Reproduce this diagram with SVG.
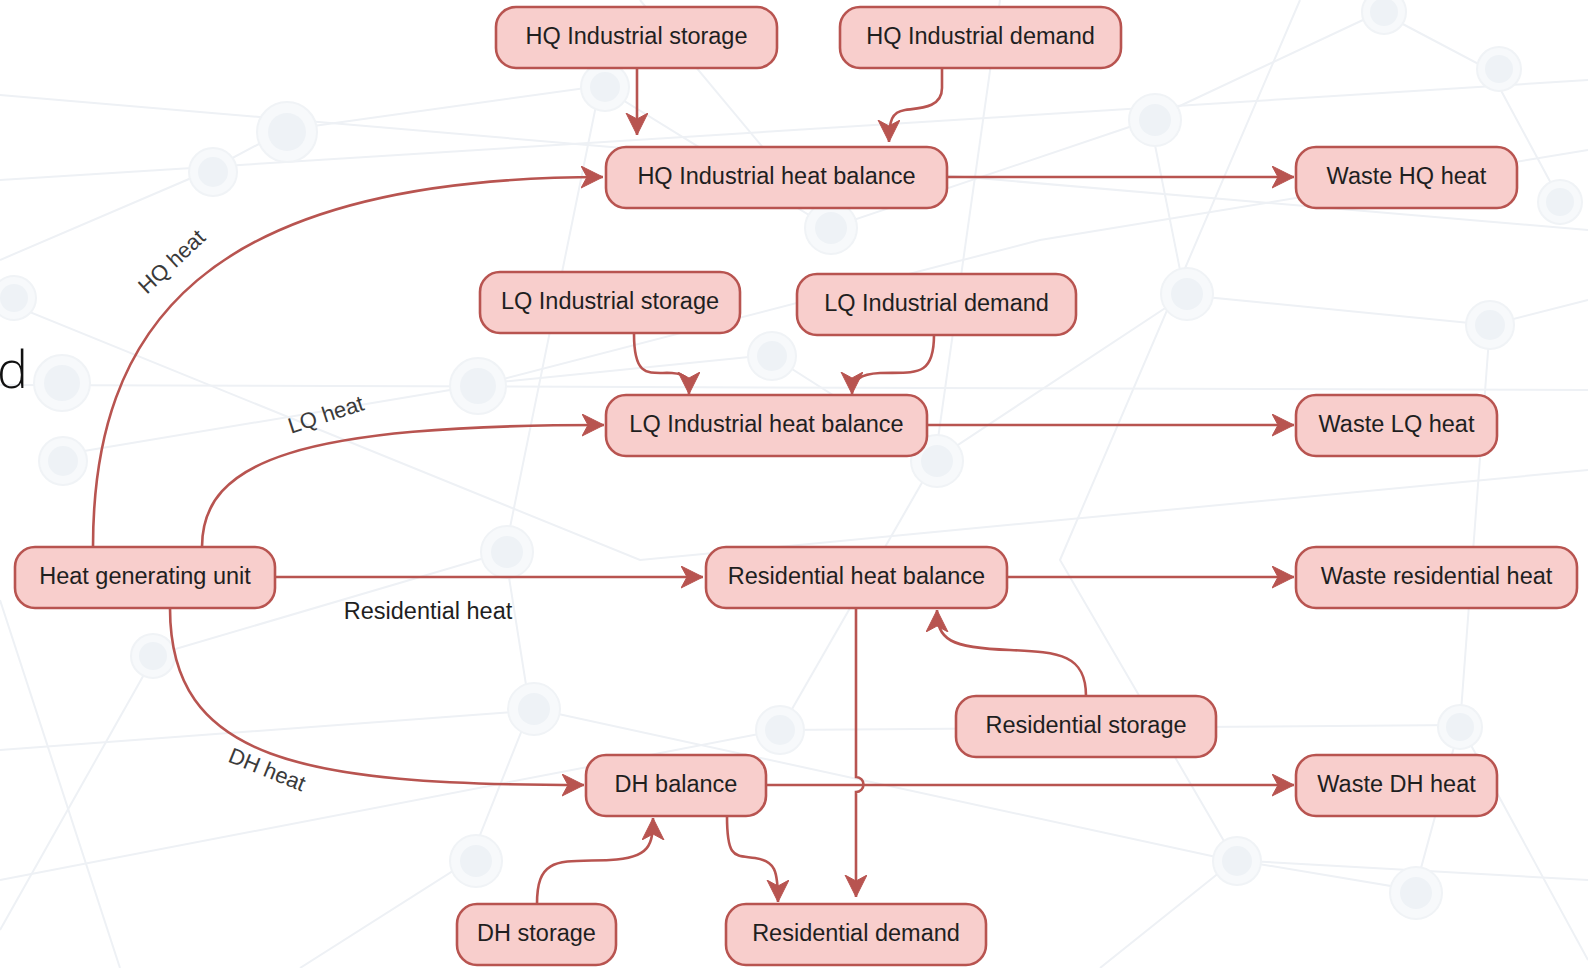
<svg xmlns="http://www.w3.org/2000/svg" width="1588" height="968" viewBox="0 0 1588 968">
  <defs>
    <style>
      .bg-line { stroke: #eef1f5; stroke-width: 2; fill: none; }
      .bg-ring { fill: #f7f9fb; stroke: #f0f3f6; stroke-width: 2; }
      .bg-dot { fill: #eef2f6; }
      .node rect { fill: #f8cecc; stroke: #b85450; stroke-width: 2.6; }
      .node text { font-family: "Liberation Sans", Arial, sans-serif; font-size: 23.5px; fill: #1f1f1f; text-anchor: middle; }
      .edge { fill: none; stroke: #b85450; stroke-width: 2.6; marker-end: url(#arrow); }
      .elabel { font-family: "Liberation Sans", Arial, sans-serif; font-size: 22px; fill: #3a3a3a; text-anchor: middle; }
    </style>
    <marker id="arrow" markerUnits="userSpaceOnUse" markerWidth="24" markerHeight="24" refX="22" refY="11" orient="auto">
      <path d="M0,0 L22,11 L0,22 L6,11 z" fill="#b85450" stroke="#b85450" stroke-width="1"/>
    </marker>
  </defs>

  <rect width="1588" height="968" fill="#ffffff"/>

  <!-- faint network backdrop -->
  <g id="backdrop">
    <path class="bg-line" d="M0 95 L1588 230"/>
    <path class="bg-line" d="M0 180 L1588 80"/>
    <path class="bg-line" d="M0 385 L1588 390"/>
    <path class="bg-line" d="M0 300 L640 560 L1588 470"/>
    <path class="bg-line" d="M60 455 L480 385 L1040 240 L1588 150"/>
    <path class="bg-line" d="M0 750 L540 710 L1230 860 L1588 880"/>
    <path class="bg-line" d="M0 880 L780 730 L1460 725"/>
    <path class="bg-line" d="M155 655 L0 930"/>
    <path class="bg-line" d="M285 130 L210 170 L0 260"/>
    <path class="bg-line" d="M285 130 L600 86 L830 228 L1150 120 L1380 12"/>
    <path class="bg-line" d="M1150 120 L1185 295 L1490 325 L1588 300"/>
    <path class="bg-line" d="M470 385 L770 355 L935 460 L1185 295"/>
    <path class="bg-line" d="M505 552 L530 710 L470 860 L300 968"/>
    <path class="bg-line" d="M780 730 L935 460 L1000 0"/>
    <path class="bg-line" d="M1460 725 L1415 890 L1235 860 L1100 968"/>
    <path class="bg-line" d="M1490 325 L1460 725 L1588 960"/>
    <path class="bg-line" d="M600 86 L505 552 L155 655"/>
    <path class="bg-line" d="M1380 12 L1490 70 L1560 200"/>
    <path class="bg-line" d="M0 600 L120 968"/>
    <path class="bg-line" d="M830 228 L640 0"/>
    <path class="bg-line" d="M1235 860 L1060 560 L1300 0"/>
    <g>
      <circle class="bg-ring" cx="287" cy="132" r="30"/><circle class="bg-dot" cx="287" cy="132" r="19"/>
      <circle class="bg-ring" cx="213" cy="172" r="24"/><circle class="bg-dot" cx="213" cy="172" r="15"/>
      <circle class="bg-ring" cx="605" cy="87" r="24"/><circle class="bg-dot" cx="605" cy="87" r="15"/>
      <circle class="bg-ring" cx="831" cy="228" r="26"/><circle class="bg-dot" cx="831" cy="228" r="16"/>
      <circle class="bg-ring" cx="1155" cy="120" r="26"/><circle class="bg-dot" cx="1155" cy="120" r="16"/>
      <circle class="bg-ring" cx="1384" cy="12" r="22"/><circle class="bg-dot" cx="1384" cy="12" r="14"/>
      <circle class="bg-ring" cx="1499" cy="69" r="22"/><circle class="bg-dot" cx="1499" cy="69" r="14"/>
      <circle class="bg-ring" cx="1187" cy="294" r="26"/><circle class="bg-dot" cx="1187" cy="294" r="16"/>
      <circle class="bg-ring" cx="1490" cy="325" r="24"/><circle class="bg-dot" cx="1490" cy="325" r="15"/>
      <circle class="bg-ring" cx="62" cy="383" r="28"/><circle class="bg-dot" cx="62" cy="383" r="18"/>
      <circle class="bg-ring" cx="478" cy="386" r="28"/><circle class="bg-dot" cx="478" cy="386" r="18"/>
      <circle class="bg-ring" cx="772" cy="356" r="24"/><circle class="bg-dot" cx="772" cy="356" r="15"/>
      <circle class="bg-ring" cx="937" cy="461" r="26"/><circle class="bg-dot" cx="937" cy="461" r="16"/>
      <circle class="bg-ring" cx="507" cy="552" r="26"/><circle class="bg-dot" cx="507" cy="552" r="16"/>
      <circle class="bg-ring" cx="63" cy="461" r="24"/><circle class="bg-dot" cx="63" cy="461" r="15"/>
      <circle class="bg-ring" cx="153" cy="656" r="22"/><circle class="bg-dot" cx="153" cy="656" r="14"/>
      <circle class="bg-ring" cx="534" cy="709" r="26"/><circle class="bg-dot" cx="534" cy="709" r="16"/>
      <circle class="bg-ring" cx="780" cy="730" r="24"/><circle class="bg-dot" cx="780" cy="730" r="15"/>
      <circle class="bg-ring" cx="1460" cy="727" r="22"/><circle class="bg-dot" cx="1460" cy="727" r="14"/>
      <circle class="bg-ring" cx="1237" cy="861" r="24"/><circle class="bg-dot" cx="1237" cy="861" r="15"/>
      <circle class="bg-ring" cx="1416" cy="893" r="26"/><circle class="bg-dot" cx="1416" cy="893" r="16"/>
      <circle class="bg-ring" cx="476" cy="861" r="26"/><circle class="bg-dot" cx="476" cy="861" r="16"/>
      <circle class="bg-ring" cx="1560" cy="202" r="22"/><circle class="bg-dot" cx="1560" cy="202" r="14"/>
      <circle class="bg-ring" cx="14" cy="298" r="22"/><circle class="bg-dot" cx="14" cy="298" r="14"/>
    </g>
  </g>

  <!-- stray heading glyph at the left margin -->
  <text x="-3" y="388" font-family="'Open Sans', 'Noto Sans', sans-serif" font-weight="300" font-size="52" fill="#111111">d</text>

  <!-- connectors -->
  <g id="connectors">
    <path id="e-hqstorage-hqbal" class="edge" d="M637 68 V135"/>
    <path id="e-hqdemand-hqbal" class="edge" d="M942 68 V88 C942 108 920 108 905 110 C892 112 889 120 889 142"/>
    <path id="e-gen-hqbal" class="edge" d="M93 547 C93 330 200 177 603 177"/>
    <path id="e-hqbal-waste" class="edge" d="M947 177 H1294"/>
    <path id="e-lqstorage-lqbal" class="edge" d="M634 334 C634 380 650 372 672 373 C688 374 689 380 689 394"/>
    <path id="e-lqdemand-lqbal" class="edge" d="M934 335 C934 378 915 372 880 373 C860 374 852 380 852 394"/>
    <path id="e-gen-lqbal" class="edge" d="M202 547 C202 460 300 425 604 425"/>
    <path id="e-lqbal-waste" class="edge" d="M927 425 H1294"/>
    <path id="e-gen-resbal" class="edge" d="M275 577 H703"/>
    <path id="e-resbal-waste" class="edge" d="M1007 577 H1294"/>
    <path id="e-resbal-resdemand" class="edge" d="M856 608 V777 A7.5 7.5 0 0 1 856 792 V897"/>
    <path id="e-resstorage-resbal" class="edge" d="M1086 696 C1086 655 1060 652 1010 650 C950 648 937 640 937 610"/>
    <path id="e-gen-dhbal" class="edge" d="M170 608 C170 760 300 785 584 785"/>
    <path id="e-dhbal-waste" class="edge" d="M766 785 H1294"/>
    <path id="e-dhstorage-dhbal" class="edge" d="M537 904 C537 855 560 862 610 860 C650 858 653 845 653 818"/>
    <path id="e-dhbal-resdemand" class="edge" d="M727 816 C727 860 735 855 755 858 C775 861 778 870 778 902"/>

    <text class="elabel" transform="translate(172 262) rotate(-43)" y="7">HQ heat</text>
    <text class="elabel" transform="translate(326 415) rotate(-18)" y="7">LQ heat</text>
    <text class="elabel" x="428" y="619" style="font-size:23.5px; fill:#1f1f1f">Residential heat</text>
    <text class="elabel" transform="translate(267 770) rotate(22)" y="7">DH heat</text>
  </g>

  <!-- nodes -->
  <g id="hq-storage" class="node"><rect x="496" y="7" width="281" height="61" rx="20"/><text x="636.5" y="44">HQ Industrial storage</text></g>
  <g id="hq-demand" class="node"><rect x="840" y="7" width="281" height="61" rx="20"/><text x="980.5" y="44">HQ Industrial demand</text></g>
  <g id="hq-balance" class="node"><rect x="606" y="147" width="341" height="61" rx="20"/><text x="776.5" y="184">HQ Industrial heat balance</text></g>
  <g id="waste-hq" class="node"><rect x="1296" y="147" width="221" height="61" rx="20"/><text x="1406.5" y="184">Waste HQ heat</text></g>
  <g id="lq-storage" class="node"><rect x="480" y="272" width="260" height="61" rx="20"/><text x="610" y="309">LQ Industrial storage</text></g>
  <g id="lq-demand" class="node"><rect x="797" y="274" width="279" height="61" rx="20"/><text x="936.5" y="311">LQ Industrial demand</text></g>
  <g id="lq-balance" class="node"><rect x="606" y="395" width="321" height="61" rx="20"/><text x="766.5" y="432">LQ Industrial heat balance</text></g>
  <g id="waste-lq" class="node"><rect x="1296" y="395" width="201" height="61" rx="20"/><text x="1396.5" y="432">Waste LQ heat</text></g>
  <g id="heat-gen" class="node"><rect x="15" y="547" width="260" height="61" rx="20"/><text x="145" y="584">Heat generating unit</text></g>
  <g id="res-balance" class="node"><rect x="706" y="547" width="301" height="61" rx="20"/><text x="856.5" y="584">Residential heat balance</text></g>
  <g id="waste-res" class="node"><rect x="1296" y="547" width="281" height="61" rx="20"/><text x="1436.5" y="584">Waste residential heat</text></g>
  <g id="res-storage" class="node"><rect x="956" y="696" width="260" height="61" rx="20"/><text x="1086" y="733">Residential storage</text></g>
  <g id="dh-balance" class="node"><rect x="586" y="755" width="180" height="61" rx="20"/><text x="676" y="792">DH balance</text></g>
  <g id="waste-dh" class="node"><rect x="1296" y="755" width="201" height="61" rx="20"/><text x="1396.5" y="792">Waste DH heat</text></g>
  <g id="dh-storage" class="node"><rect x="457" y="904" width="159" height="61" rx="20"/><text x="536.5" y="941">DH storage</text></g>
  <g id="res-demand" class="node"><rect x="726" y="904" width="260" height="61" rx="20"/><text x="856" y="941">Residential demand</text></g>
</svg>
